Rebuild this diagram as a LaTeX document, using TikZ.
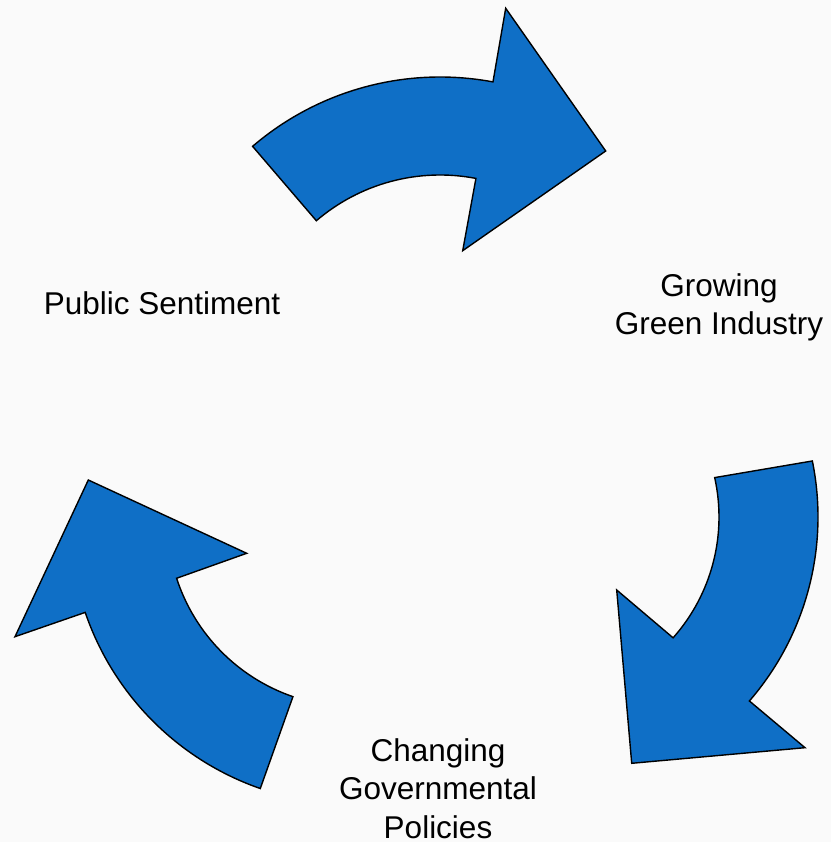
\documentclass[tikz,border=0pt]{standalone}
\usepackage{fontspec}
\setmainfont{Liberation Sans}
\usetikzlibrary{calc}
\definecolor{arrowblue}{RGB}{15,111,198}
\definecolor{bgwhite}{RGB}{250,250,250}
\begin{document}
\begin{tikzpicture}[x=1pt,y=1pt,
  bigarrow/.style={fill=arrowblue,draw=black,line width=1.4pt,line join=miter},
  caption/.style={font=\fontsize{31.5}{38.4}\selectfont,inner sep=0pt,align=center,text=black}]
\fill[bgwhite] (0,0) rectangle (831,842);
\useasboundingbox (0,0) rectangle (831,842);
\coordinate (c1) at (440,477);
\coordinate (c2) at (537,325);
\coordinate (c3) at (353.5,321.2);
% top arrow
\draw[bigarrow] ($(c1)+(130.6:288)$) arc[start angle=130.6,end angle=79.4,radius=288]
  -- (505.7,833.7) -- (605.7,691) -- (462.7,591.3)
  -- ($(c1)+(79.1:190)$) arc[start angle=79.1,end angle=130.6,radius=190] -- cycle;
% right arrow
\draw[bigarrow] ($(c2)+(11.5:281)$) arc[start angle=11.5,end angle=-40.9,radius=281]
  -- (805,94.3) -- (631.7,78.7) -- (616.7,252)
  -- ($(c2)+(-41.6:182)$) arc[start angle=-41.6,end angle=12.5,radius=182] -- cycle;
% left arrow
\draw[bigarrow] ($(c3)+(250.8:283.5)$) arc[start angle=250.8,end angle=198.85,radius=283.5]
  -- (15,205.3) -- (88.3,362) -- (246.7,288.7)
  -- ($(c3)+(198.0:186)$) arc[start angle=198.0,end angle=251.0,radius=186] -- cycle;
% labels
\node[caption,anchor=base] (pub) at (162,527) {Public Sentiment};
\node[caption,anchor=north] (grow) at (719,569) {Growing\\Green Industry};
\node[caption,anchor=north] (gov) at (438,103.5) {Changing\\Governmental\\Policies};
\end{tikzpicture}
\end{document}
